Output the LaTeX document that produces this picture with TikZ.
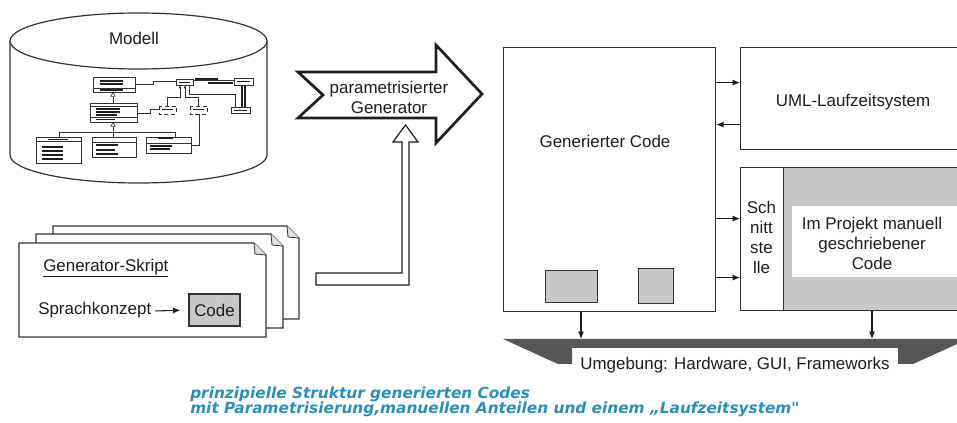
\documentclass[tikz,border=0pt]{standalone}
\usepackage{fontspec}
\setmainfont{Liberation Sans}
\newfontfamily\capfont{DejaVu Sans}
\usetikzlibrary{arrows.meta,calc}
\definecolor{ink}{HTML}{1E1E1E}
\definecolor{linegray}{HTML}{333333}
\definecolor{boxgray}{HTML}{C8C8C8}
\definecolor{bargray}{HTML}{565656}
\definecolor{capblue}{HTML}{2A8FBF}

\begin{document}
\begin{tikzpicture}[x=0.75pt,y=-0.75pt,
  every node/.style={font=\fontsize{12.7pt}{15pt}\selectfont, text=ink, inner sep=0pt},
  box/.style={draw=linegray, line width=0.9pt, fill=white, anchor=north west, inner sep=0pt},
  graybox/.style={box, fill=boxgray},
  arr/.style={draw=ink, line width=0.8pt, -{Latex[length=5.5pt,width=4.5pt]}},
  mini/.style={draw=linegray, line width=0.45pt},
  minibar/.style={draw=ink, line width=1.1pt},
  page/.style={draw=linegray, line width=0.9pt, fill=white},
]
\useasboundingbox (0,0) rectangle (957,423);
\clip (0,0) rectangle (957,423);
\fill[white] (0,0) rectangle (957,423);

% ---------- model repository (cylinder) ----------
\draw[page] (10,41) -- (10,155)
  arc[start angle=180, end angle=360, x radius=96.375pt, y radius=21pt]
  -- (267,41);
\draw[page] (138.5,41) ellipse[x radius=96.375pt, y radius=21pt];
\node (modell) at (134,38) {Modell};

% small class diagram inside the model
\draw[mini] (93,77) rectangle (135,92);
\draw[mini] (93,88) -- (135,88);
\draw[minibar,line width=0.8pt] (100,81) -- (123,81) (100,84) -- (123,84) (100,90) -- (123,90);
\draw[mini] (176,79) rectangle (193,85);
\draw[minibar,line width=0.7pt] (179,82) -- (190,82);
\draw[mini] (234,78) rectangle (253,85);
\draw[minibar,line width=0.7pt] (237,81.5) -- (250,81.5);
\draw[mini] (193,80) -- (234,80);
\draw[minibar] (195,79) -- (218,79) (208,83) -- (233,83);
\draw[minibar,line width=0.8pt] (242,85) -- (242,107) (245,85) -- (245,107);
\draw[mini] (231,107) rectangle (250,113);
\draw[minibar,line width=0.7pt] (234,110) -- (247,110);
\draw[mini] (189,85) -- (189,94) -- (235,94) -- (235,107);
\draw[mini] (135,84) -- (153,84) -- (153,81) -- (176,81);
\draw[mini,densely dashed] (159,106) rectangle (176,114);
\draw[minibar,line width=0.7pt] (162,109) -- (173,109);
\draw[mini,densely dashed] (190,106) rectangle (207,114);
\draw[minibar,line width=0.7pt] (193,109) -- (204,109);
\draw[mini,-{Latex[length=2.5pt,width=2pt]}] (167,106) -- (167,97) -- (180,97) -- (180,85);
\draw[mini,-{Latex[length=2.5pt,width=2pt]}] (198,106) -- (198,97) -- (185,97) -- (185,85);
\draw[mini] (90,103) rectangle (137,122);
\draw[mini] (90,106) -- (137,106) (90,117) -- (137,117);
\draw[minibar,line width=0.8pt] (96,109) -- (120,109) (96,112) -- (120,112) (96,115) -- (117,115) (96,119.5) -- (115,119.5);
\draw[mini] (137,113) -- (150,113) -- (150,109) -- (159,109);
\draw[mini,-{Triangle[open,length=3.5pt,width=4pt]}] (113,103) -- (113,92);
\draw[mini,-{Triangle[open,length=3.5pt,width=4pt]}] (113,137) -- (113,122);
\draw[mini] (59,137) -- (59,132) -- (175,132) -- (175,137);
\draw[mini] (36,137) rectangle (81,163);
\draw[mini] (36,141) -- (81,141);
\draw[minibar,line width=0.6pt] (48,139) -- (68,139);
\draw[minibar,line width=0.8pt] (42,147) -- (63,147) (42,151) -- (63,151) (42,155) -- (63,155) (42,159) -- (63,159);
\draw[mini] (92,137) rectangle (136,157);
\draw[mini] (92,142) -- (136,142);
\draw[minibar,line width=0.8pt] (96,145) -- (118,145) (96,150) -- (115,150) (96,154) -- (118,154);
\draw[mini] (146,137) rectangle (191,153);
\draw[minibar,line width=1.3pt] (158,138) -- (173,138);
\draw[mini] (146,143) -- (191,143);
\draw[minibar,line width=0.8pt] (150,146) -- (172,146) (150,149) -- (170,149);
\draw[mini] (191,145) -- (199,145) -- (199,114);

% ---------- generator arrow ----------
\draw[draw=ink, line width=2pt, fill=white, line join=miter]
  (298,72) -- (436,72) -- (436,45) -- (482,94) -- (436,143) -- (436,118)
  -- (298,118) -- (323,95) -- cycle;
\node[align=center] (generator) at (389,97) {parametrisierter\\Generator};
\coordinate (genin) at (405.5,125);

% ---------- stacked generator scripts ----------
\draw[page] (53,226) -- (287,226) -- (299,238) -- (299,319) -- (53,319) -- cycle;
\draw[linegray, line width=0.6pt, fill=boxgray!60] (287,226) -- (288,237) -- (299,238);
\draw[page] (36,234) -- (271,234) -- (283,246) -- (283,328) -- (36,328) -- cycle;
\draw[linegray, line width=0.6pt, fill=boxgray!60] (271,234) -- (272,245) -- (283,246);
\draw[page] (19,243) -- (254,243) -- (266,255) -- (266,337) -- (19,337) -- cycle;
\draw[linegray, line width=0.6pt, fill=boxgray!60] (254,243) -- (255,254) -- (266,255);
\node[anchor=west] (skript) at (43,268) {\underline{Generator-Skript}};
\node[anchor=west] (konzept) at (38,310) {Sprachkonzept};
\node[graybox, anchor=center, minimum width=38.25pt, minimum height=24pt] (code) at (214.5,310) {Code};
\draw[arr, shorten >=6pt] (konzept.east) ++(4,1) -- (code.west);
\coordinate (scriptout) at (316,279);

% hollow connector from the scripts to the generator
\draw[draw=ink, line width=0.9pt, fill=white, line join=miter]
  (scriptout) ++(0,-6) -- ++(86,0) -- ++(0,-131) -- ++(-9,0) -- (genin)
  -- ++(12.5,17) -- ++(-9,0) -- ++(0,143) -- ++(-93,0) -- cycle;

% ---------- generated system ----------
\node[box, minimum width=159pt, minimum height=198pt] (gen) at (503,47) {};
\node (gentext) at (605,141) {Generierter Code};
\node[graybox, minimum width=39pt, minimum height=24pt] (part1) at (545,270) {};
\node[graybox, minimum width=26.25pt, minimum height=26.25pt] (part2) at (638,268) {};

\node[box, minimum width=166.5pt, minimum height=76.5pt] (uml) at (740,47) {};
\node (umltext) at (853,102) {UML-Laufzeitsystem};

\node[graybox, minimum width=134.25pt, minimum height=107.25pt] (manual) at (783,167) {};
\fill[white] (792,206) rectangle (965,277);
\node[align=center] (manualtext) at (872,243) {Im Projekt manuell\\geschriebener\\Code};
\node[box, minimum width=32.25pt, minimum height=107.25pt] (schnitt) at (740,167) {};
\node[align=center] (schnitttext) at (761.5,237.5) {Sch\\nitt\\ste\\lle};

\coordinate (u1) at ([yshift=12pt]uml.west);
\coordinate (u2) at ([yshift=-19.5pt]uml.west);
\coordinate (s1) at ([yshift=15.375pt]schnitt.west);
\coordinate (s2) at ([yshift=-28.875pt]schnitt.west);
\draw[arr] (gen.east |- u1) -- (u1);
\draw[arr] (u2) -- (gen.east |- u2);
\draw[arr] (gen.east |- s1) -- (s1);
\draw[arr] (gen.east |- s2) -- (s2);

% ---------- environment bar ----------
\fill[bargray] (503,339) -- (968,339) -- (913,364) -- (898,364) -- (898,348)
  -- (572,348) -- (572,364) -- (558,364) -- cycle;
\coordinate (bartop) at (735,339);
\node (env) at (735,365) {Umgebung: Hardware, GUI, Frameworks};
\coordinate (d1) at ([xshift=58.5pt]gen.south west);
\coordinate (d2) at ([xshift=66.75pt]manual.south west);
\draw[arr] (d1) -- (d1 |- bartop);
\draw[arr] (d2) -- (d2 |- bartop);

% ---------- caption ----------
\node[anchor=north west, align=left, text=capblue,
      font=\capfont\bfseries\itshape\fontsize{11.5pt}{11.25pt}\selectfont] (caption) at (190,387)
  {prinzipielle Struktur generierten Codes\\
   mit Parametrisierung,manuellen Anteilen und einem „Laufzeitsystem"};
\end{tikzpicture}
\end{document}
